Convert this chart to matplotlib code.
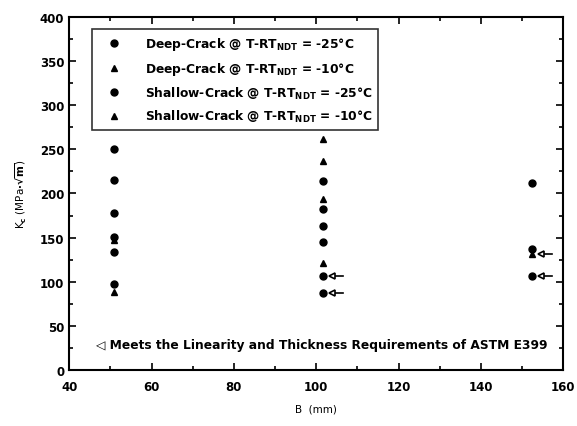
import matplotlib.pyplot as plt
from matplotlib.ticker import MultipleLocator

plt.rcParams['font.family'] = ['DejaVu Sans']
plt.rcParams['font.weight'] = 'bold'
plt.rcParams['mathtext.default'] = 'bf'

# Datos (B en mm, Kc en MPa*sqrt(m))
deep_25_b   = [50.8, 50.8, 50.8, 50.8, 50.8, 50.8]
deep_25_kc  = [250, 215, 178, 151, 134, 97]
deep_10_b   = [50.8, 50.8]
deep_10_kc  = [147, 88]
shal_25_b   = [101.6, 101.6, 101.6, 101.6, 101.6, 101.6, 152.4, 152.4, 152.4]
shal_25_kc  = [214, 183, 163, 145, 107, 87, 212, 137, 106]
shal_10_b   = [101.6, 101.6, 101.6, 101.6, 152.4]
shal_10_kc  = [262, 237, 194, 121, 131]

# Puntos que cumplen ASTM E399
valid_b  = [101.6, 101.6, 152.4, 152.4]
valid_kc = [107, 87, 131, 106]

fig = plt.figure(figsize=(5.77, 4.27), dpi=100)
ax = fig.add_axes([0.12, 0.131, 0.856, 0.827])

ax.plot(deep_25_b, deep_25_kc, 'o', color='k', ms=5, label='Deep-Crack @ T-RT$_{NDT}$ = -25°C')
ax.plot(deep_10_b, deep_10_kc, '^', color='k', ms=5, label='Deep-Crack @ T-RT$_{NDT}$ = -10°C')
ax.plot(shal_25_b, shal_25_kc, 'o', color='k', ms=5, label='Shallow-Crack @ T-RT$_{NDT}$ = -25°C')
ax.plot(shal_10_b, shal_10_kc, '^', color='k', ms=5, label='Shallow-Crack @ T-RT$_{NDT}$ = -10°C')

# Flechas de validez
for b, kc in zip(valid_b, valid_kc):
   ax.plot([b + 2.2, b + 5.0], [kc, kc], '-', color='k', lw=1.2)
   ax.plot(b + 2.2, kc, '<', mfc='white', mec='k', mew=1.2, ms=5)

ax.text(46.5, 29, '◁ Meets the Linearity and Thickness Requirements of ASTM E399',
        fontsize=8.8, va='center', ha='left')

ax.set_xlim(40, 160)
ax.set_ylim(0, 400)
ax.xaxis.set_major_locator(MultipleLocator(20))
ax.xaxis.set_minor_locator(MultipleLocator(10))
ax.yaxis.set_major_locator(MultipleLocator(50))
ax.yaxis.set_minor_locator(MultipleLocator(25))
ax.tick_params(which='both', direction='in', top=True, right=True, labelsize=8.5, width=1.2)
ax.tick_params(which='major', length=5)
ax.tick_params(which='minor', length=3)
ax.tick_params(axis='x', pad=7)
for s in ax.spines.values():
   s.set_linewidth(1.5)

ax.set_xlabel('B  (mm)', fontsize=7.5, labelpad=8)
ax.set_ylabel('K$_{c}$ (MPa$\\cdot\\sqrt{m}$)', fontsize=7.5, labelpad=8)

leg = ax.legend(loc='upper left', bbox_to_anchor=(0.046, 0.965), fontsize=8.8, frameon=True,
                fancybox=False, edgecolor='k', handletextpad=1.2, borderpad=0.5,
                labelspacing=0.62, handlelength=2.6, borderaxespad=0)
leg.get_frame().set_linewidth(1.2)

fig.savefig('out.png', dpi=100)
